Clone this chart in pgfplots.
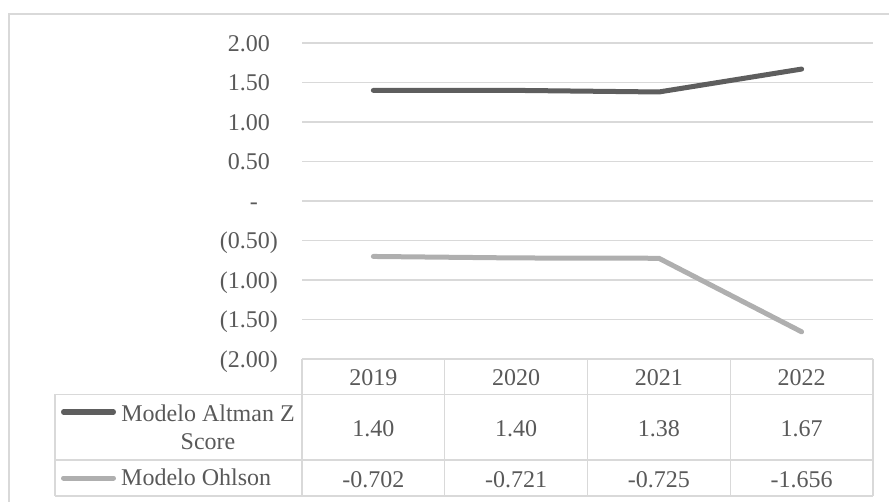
\documentclass[border=0pt]{standalone}
\usepackage{fontspec}
\setmainfont{Liberation Serif}
\usepackage{pgfplots}
\usepackage{pgfplotstable}
\pgfplotsset{compat=1.18}

\definecolor{txt}{HTML}{595959}
\definecolor{gridc}{HTML}{D9D9D9}
\definecolor{altman}{HTML}{5E5E5E}
\definecolor{ohlson}{HTML}{AFAFAF}

% Scores per year: Altman Z and Ohlson models
\pgfplotstableread{
idx year altman ohlson
0   2019 1.40   -0.702
1   2020 1.40   -0.721
2   2021 1.38   -0.725
3   2022 1.67   -1.656
}\scores

\begin{document}
\begin{tikzpicture}
\fontsize{24}{28}\selectfont
\useasboundingbox (0,0) rectangle (889pt,501pt);
\clip (0,0) rectangle (889pt,501pt);

% chart frame
\draw[gridc, line width=1.5pt] (9pt,-20pt) -- (9pt,487pt) -- (910pt,487pt);

\begin{axis}[
  at={(302pt,142pt)}, anchor=south west,
  scale only axis, width=571pt, height=316pt,
  xmin=-0.5, xmax=3.5, ymin=-2, ymax=2,
  axis line style={draw=none},
  xtick=\empty,
  ytick={-2,-1.5,-1,-0.5,0,0.5,1,1.5,2},
  yticklabels={(2.00),(1.50),(1.00),(0.50),{-\phantom{0)}},{0.50\phantom{)}},{1.00\phantom{)}},{1.50\phantom{)}},{2.00\phantom{)}}},
  yticklabel style={anchor=east, inner sep=0pt, xshift=-24pt, text=txt, text depth=0pt},
  major tick length=0pt,
  ymajorgrids, grid style={gridc, line width=1.3pt},
  /pgf/number format/assume math mode=true,
  clip=false,
]
\addplot[altman, line width=5pt, line cap=round, line join=round] table[x=idx, y=altman]{\scores};
\addplot[ohlson, line width=5pt, line cap=round, line join=round] table[x=idx, y=ohlson]{\scores};
\end{axis}

% data table below the plot
\begin{scope}[x=1pt, y=1pt]
  \draw[gridc, line width=1.3pt]
    (302,142) -- (873,142)
    (55,106.7) -- (873,106.7)
    (55,41) -- (873,41)
    (55,5) -- (873,5)
    (55,106.7) -- (55,5)
    (302,142) -- (302,5)
    (444.75,142) -- (444.75,5)
    (587.5,142) -- (587.5,5)
    (730.25,142) -- (730.25,5)
    (873,142) -- (873,5);

  \foreach \cx/\yr/\za/\oh in {373.4/2019/1.40/-0.702, 516.1/2020/1.40/-0.721, 658.9/2021/1.38/-0.725, 801.6/2022/1.67/-1.656}{
    \node[anchor=base, text=txt, inner sep=0pt] at (\cx,115.3) {\yr};
    \node[anchor=base, text=txt, inner sep=0pt] at (\cx,65) {\za};
    \node[anchor=base, text=txt, inner sep=0pt] at (\cx,13.3) {\oh};
  }

  % legend keys
  \draw[altman, line width=5pt, line cap=round] (63.5,89) -- (113.5,89);
  \draw[ohlson, line width=5pt, line cap=round] (63.5,23) -- (113.5,23);
  \node[anchor=base, text=txt, inner sep=0pt] at (208,80) {Modelo Altman Z};
  \node[anchor=base, text=txt, inner sep=0pt] at (208,52) {Score};
  \node[anchor=base west, text=txt, inner sep=0pt] at (121,15.3) {Modelo Ohlson};
\end{scope}
\end{tikzpicture}
\end{document}
